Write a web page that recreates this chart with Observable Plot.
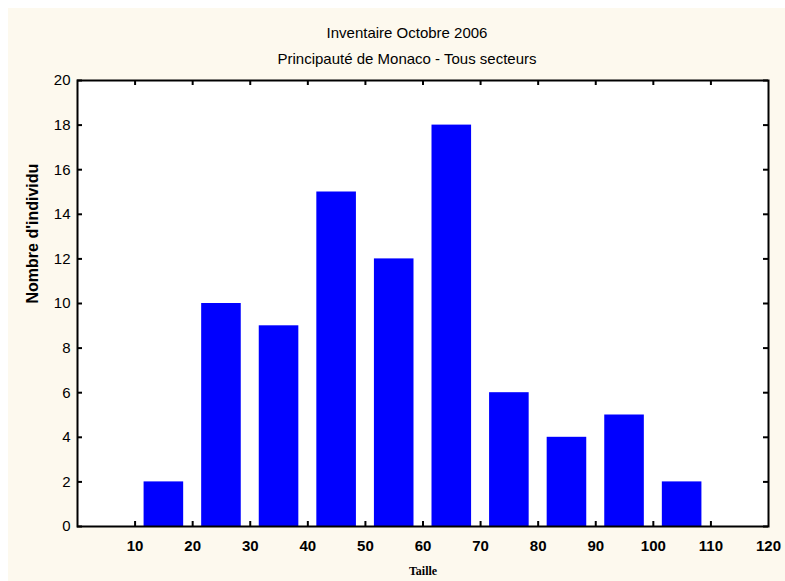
<!DOCTYPE html>
<html><head><meta charset="utf-8">
<script src="https://cdn.jsdelivr.net/npm/d3@7"></script>
<script src="https://cdn.jsdelivr.net/npm/@observablehq/plot@0.6"></script>
<style>
html,body{margin:0;padding:0;background:#fff;}
#wrap{position:absolute;left:8px;top:8px;width:777px;height:573px;background:#FDF9EE;font-family:"Liberation Sans",Arial,sans-serif;color:#000;overflow:hidden;}
.t{position:absolute;left:399px;transform:translateX(-50%);white-space:nowrap;font-size:15px;line-height:18px;}
#chart{position:absolute;left:0;top:64px;}
#chart g[aria-label="x-axis tick label"] text{font-weight:bold;}
</style></head>
<body>
<div id="wrap">
  <div class="t" style="top:16px">Inventaire Octobre 2006</div>
  <div class="t" style="top:42px">Principauté de Monaco - Tous secteurs</div>
  <div id="chart"></div>
</div>
<script>
const classStart = [10, 20, 30, 40, 50, 60, 70, 80, 90, 100, 110];
const classEnd   = [20, 30, 40, 50, 60, 70, 80, 90, 100, 110, 120];
const counts     = [2, 10, 9, 15, 12, 18, 6, 4, 5, 2, 0];
const xTickValues = [10, 20, 30, 40, 50, 60, 70, 80, 90, 100, 110, 120];
const yTickValues = [0, 2, 4, 6, 8, 10, 12, 14, 16, 18, 20];
const xLabel = "Taille";
const yLabel = "Nombre d'individu";

const bars = classStart.map((s, i) => ({x1: s, x2: classEnd[i], y: counts[i]}));

const W = 777, H = 509, mL = 69, mR = 17, mT = 8, mB = 55;
const plotW = W - mL - mR, plotH = H - mT - mB;
const innerX = xTickValues.filter(v => v < 120);

const chart = Plot.plot({
  width: W, height: H,
  marginLeft: mL, marginRight: mR, marginTop: mT, marginBottom: mB,
  style: {background: "transparent", color: "black", fontFamily: "Liberation Sans, Arial, sans-serif", fontSize: "15px"},
  x: {domain: [0, 120]},
  y: {domain: [0, 20]},
  marks: [
    Plot.frame({fill: "white", stroke: null}),
    Plot.rectY(bars, {x1: "x1", x2: "x2", y: "y", fill: "#0000FF", insetLeft: 9, insetRight: 9}),
    Plot.tickY(yTickValues, {y: d => d, insetRight: plotW - 5, stroke: "black", strokeWidth: 2}),
    Plot.tickY(yTickValues, {y: d => d, insetLeft: plotW - 5, stroke: "black", strokeWidth: 2}),
    Plot.tickX(innerX, {x: d => d, insetTop: plotH - 5, stroke: "black", strokeWidth: 2}),
    Plot.tickX(innerX, {x: d => d, insetBottom: plotH - 5, stroke: "black", strokeWidth: 2}),
    Plot.frame({stroke: "black", strokeWidth: 2}),
    Plot.axisY(yTickValues, {tickSize: 0, tickPadding: 7, label: null, fontSize: 15}),
    Plot.axisX(xTickValues, {tickSize: 0, tickPadding: 14, label: null, fontSize: 15, fontWeight: "bold"}),
    Plot.text([xLabel], {frameAnchor: "bottom", dy: 48, fontFamily: "Liberation Serif, Times New Roman, serif", fontWeight: "bold", fontSize: 12, fill: "black"}),
    Plot.text([yLabel], {frameAnchor: "left", dx: -45, rotate: -90, fontWeight: "bold", fontSize: 16, fill: "black"})
  ]
});
document.getElementById("chart").appendChild(chart);
</script>
</body></html>
